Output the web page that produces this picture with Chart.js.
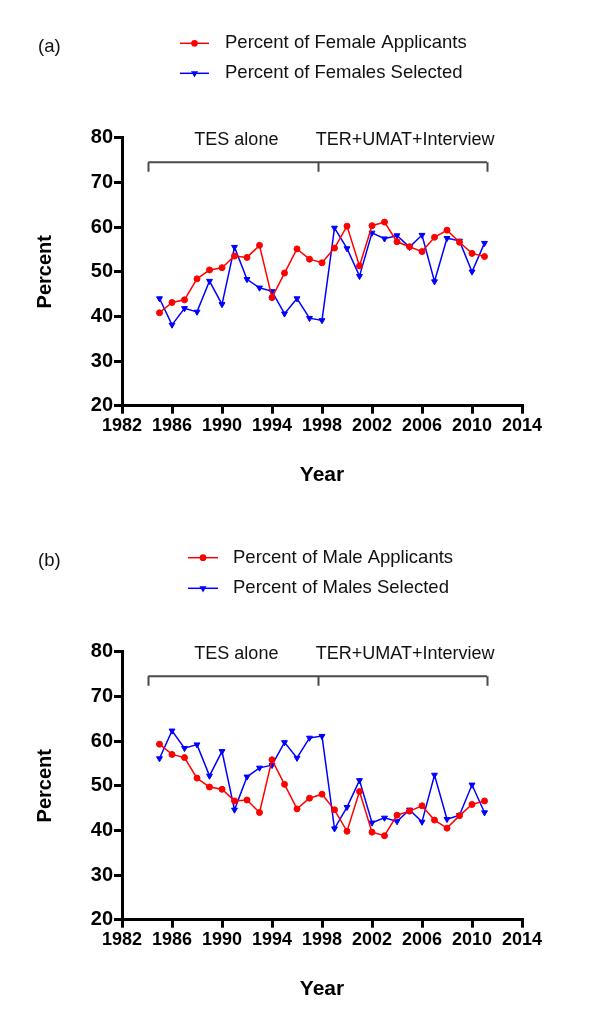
<!DOCTYPE html>
<html>
<head>
<meta charset="utf-8">
<script src="https://cdn.jsdelivr.net/npm/chart.js@4.4.0/dist/chart.umd.min.js"></script>
<style>
  html, body { margin: 0; padding: 0; background: #fff; }
  canvas { position: absolute; left: 0; }
  #panelA { top: 0; }
  #panelB { top: 514px; }
</style>
</head>
<body>
<canvas id="panelA" width="600" height="514"></canvas>
<canvas id="panelB" width="600" height="514"></canvas>
<script>
// chart data
const years = [1985, 1986, 1987, 1988, 1989, 1990, 1991, 1992, 1993, 1994, 1995, 1996, 1997, 1998,
               1999, 2000, 2001, 2002, 2003, 2004, 2005, 2006, 2007, 2008, 2009, 2010, 2011];

const femaleApplicants = [40.8, 43.1, 43.7, 48.4, 50.4, 50.9, 53.5, 53.2, 55.9, 44.2, 49.7, 55.1, 52.8, 52.0,
                          55.3, 60.2, 51.3, 60.3, 61.1, 56.7, 55.6, 54.5, 57.7, 59.3, 56.6, 54.1, 53.4];
const femalesSelected = [44.0, 38.1, 41.8, 41.0, 47.9, 42.7, 55.5, 48.3, 46.4, 45.6, 40.6, 44.0, 39.6, 39.1,
                         59.8, 55.2, 49.0, 58.7, 57.4, 58.1, 55.5, 58.2, 47.8, 57.5, 56.9, 50.0, 56.4];

const maleApplicants = [59.3, 57.0, 56.3, 51.7, 49.7, 49.2, 46.6, 46.8, 44.0, 55.8, 50.3, 44.8, 47.2, 48.1,
                        44.6, 39.8, 48.7, 39.6, 38.8, 43.4, 44.3, 45.5, 42.3, 40.5, 43.3, 45.8, 46.6];
const malesSelected = [56.1, 62.3, 58.4, 59.2, 52.2, 57.7, 44.6, 52.0, 54.0, 54.6, 59.7, 56.2, 60.7, 61.1,
                       40.4, 45.2, 51.2, 41.7, 42.8, 42.0, 44.6, 41.9, 52.4, 42.5, 43.4, 50.2, 44.0];

// selection periods shown by the bracket above the data
const periodLabels = ["TES alone", "TER+UMAT+Interview"];
const periodBreaks = [1984.1, 1997.7, 2011.2];

const FONT = '"Liberation Sans", Arial, Helvetica, sans-serif';

// bracket + period text, drawn through the chart's own scales
const periodPlugin = {
    id: "periods",
    afterDatasetsDraw(chart) {
        const { ctx, scales: { x, y } } = chart;
        const yLine = y.getPixelForValue(74.5);
        const yTick = y.getPixelForValue(72.4);
        ctx.save();
        ctx.strokeStyle = "#4a4a4a";
        ctx.lineWidth = 2;
        ctx.beginPath();
        ctx.moveTo(x.getPixelForValue(periodBreaks[0]), yLine);
        ctx.lineTo(x.getPixelForValue(periodBreaks[2]), yLine);
        periodBreaks.forEach(b => {
            const px = Math.round(x.getPixelForValue(b)) + 0.5;
            ctx.moveTo(px, yLine);
            ctx.lineTo(px, yTick);
        });
        ctx.stroke();

        ctx.fillStyle = "#111";
        ctx.font = "18px " + FONT;
        ctx.textAlign = "center";
        ctx.textBaseline = "middle";
        const yText = y.getPixelForValue(79.5);
        ctx.fillText(periodLabels[0], x.getPixelForValue(1991.15), yText);
        ctx.fillText(periodLabels[1], x.getPixelForValue(2004.65), yText);
        ctx.restore();
    }
};

// legend drawn as line + marker, like the original figure
const sideLegendPlugin = {
    id: "sideLegend",
    afterDraw(chart, args, opts) {
        const { ctx } = chart;
        ctx.save();
        ctx.font = "18.5px " + FONT;
        ctx.textBaseline = "middle";
        ctx.fillStyle = "#111";
        ctx.textAlign = "left";
        ctx.fillText(opts.panel, 38, 47);

        chart.data.datasets.forEach((ds, i) => {
            const rowY = opts.rows[i];
            ctx.strokeStyle = ds.borderColor;
            ctx.lineWidth = 1.5;
            ctx.beginPath();
            ctx.moveTo(opts.lineX0, rowY);
            ctx.lineTo(opts.lineX1, rowY);
            ctx.stroke();
            ctx.fillStyle = ds.borderColor;
            Chart.helpers.drawPoint(ctx, {
                pointStyle: ds.pointStyle,
                radius: 2.6,
                rotation: ds.pointRotation || 0,
                borderWidth: 1
            }, (opts.lineX0 + opts.lineX1) / 2, rowY);
            ctx.fill();
            ctx.fillStyle = "#111";
            ctx.fillText(ds.label, opts.textX, rowY);
        });
        ctx.restore();
    }
};

function makePanel(canvasId, panel, applicants, selected, labelA, labelS, legendOpts) {
    return new Chart(document.getElementById(canvasId), {
        type: "line",
        data: {
            datasets: [
                {
                    label: labelA,
                    data: years.map((yr, i) => ({ x: yr, y: applicants[i] })),
                    borderColor: "#ff0000",
                    backgroundColor: "#ff0000",
                    borderWidth: 1.5,
                    pointStyle: "circle",
                    pointRadius: 3,
                    pointBorderWidth: 1,
                    tension: 0
                },
                {
                    label: labelS,
                    data: years.map((yr, i) => ({ x: yr, y: selected[i] })),
                    borderColor: "#0000ff",
                    backgroundColor: "#0000ff",
                    borderWidth: 1.5,
                    pointStyle: "triangle",
                    pointRotation: 180,
                    pointRadius: 3.4,
                    pointBorderWidth: 1,
                    tension: 0
                }
            ]
        },
        options: {
            responsive: false,
            animation: false,
            devicePixelRatio: 1,
            layout: { padding: { left: 0, top: 137.7, right: 78, bottom: 0 } },
            plugins: {
                legend: { display: false },
                tooltip: { enabled: false },
                sideLegend: Object.assign({ panel: panel }, legendOpts)
            },
            scales: {
                x: {
                    type: "linear",
                    min: 1982,
                    max: 2014,
                    afterFit: s => { s.height = 514 - 405.7; },
                    ticks: {
                        stepSize: 4,
                        color: "#000",
                        padding: 2,
                        font: { family: FONT, size: 18, weight: "bold" },
                        callback: v => String(v)
                    },
                    grid: { drawOnChartArea: false, drawTicks: true, tickLength: 8, lineWidth: 3, color: "#000" },
                    border: { display: true, color: "#000", width: 3 },
                    title: {
                        display: true,
                        text: "Year",
                        color: "#000",
                        font: { family: FONT, size: 21, weight: "bold" },
                        padding: { top: 0, bottom: 26.4 }
                    }
                },
                y: {
                    min: 20,
                    max: 80,
                    afterFit: s => { s.width = 122; },
                    ticks: {
                        stepSize: 10,
                        color: "#000",
                        padding: 1,
                        font: { family: FONT, size: 20, weight: "bold" }
                    },
                    grid: { drawOnChartArea: false, drawTicks: true, tickLength: 8, lineWidth: 3, color: "#000" },
                    border: { display: true, color: "#000", width: 3 },
                    title: {
                        display: true,
                        text: "Percent",
                        color: "#000",
                        font: { family: FONT, size: 20, weight: "bold" },
                        padding: { top: 33, bottom: 0 }
                    }
                }
            }
        },
        plugins: [periodPlugin, sideLegendPlugin]
    });
}

makePanel("panelA", "(a)", femaleApplicants, femalesSelected,
    "Percent of Female Applicants", "Percent of Females Selected",
    { rows: [43.3, 73.3], lineX0: 180, lineX1: 209, textX: 225 });

makePanel("panelB", "(b)", maleApplicants, malesSelected,
    "Percent of Male Applicants", "Percent of Males Selected",
    { rows: [43.7, 74.3], lineX0: 188, lineX1: 218, textX: 233 });
</script>
</body>
</html>
